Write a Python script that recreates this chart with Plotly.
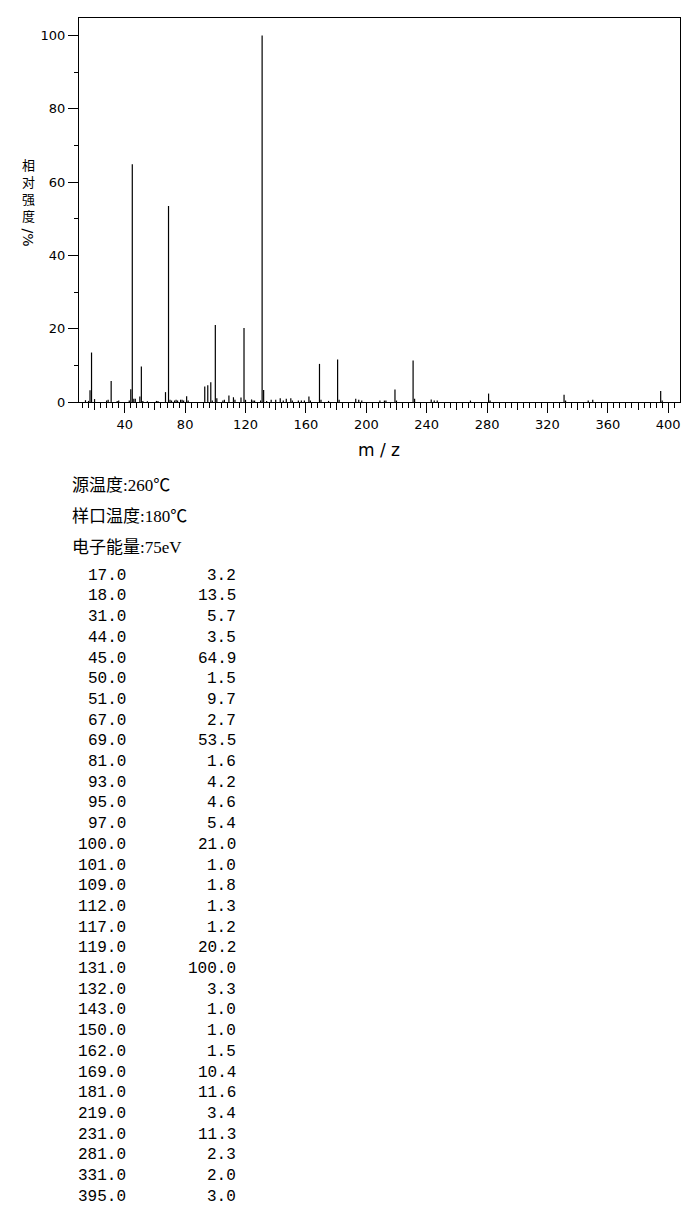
import plotly.graph_objects as go

# %% data: peaks listed in the table
table_mz = [17, 18, 31, 44, 45, 50, 51, 67, 69, 81, 93, 95, 97, 100, 101, 109, 112,
            117, 119, 131, 132, 143, 150, 162, 169, 181, 219, 231, 281, 331, 395]
table_int = [3.2, 13.5, 5.7, 3.5, 64.9, 1.5, 9.7, 2.7, 53.5, 1.6, 4.2, 4.6, 5.4, 21.0,
             1.0, 1.8, 1.3, 1.2, 20.2, 100.0, 3.3, 1.0, 1.0, 1.5, 10.4, 11.6, 3.4,
             11.3, 2.3, 2.0, 3.0]

# small peaks (< 1 %) read off the spectrum, not in the table
minor_mz = [14, 16, 20, 28, 29, 35, 36, 43, 46, 47, 52, 55, 61, 62, 70, 71, 73, 74, 75,
            77, 78, 79, 82, 98, 105, 106, 113, 120, 124, 125, 126, 130, 134, 137, 140,
            145, 147, 151, 155, 157, 159, 163, 170, 175, 182, 193, 195, 197, 209, 212,
            213, 220, 232, 243, 245, 247, 269, 282, 332, 347, 350, 396]
minor_int = [0.5, 0.3, 0.8, 0.4, 0.6, 0.3, 0.4, 0.4, 0.9, 0.9, 0.3, 0.2, 0.3, 0.3, 0.6,
             0.4, 0.4, 0.6, 0.4, 0.6, 0.6, 0.4, 0.4, 0.4, 0.4, 0.6, 0.6, 0.6, 0.7, 0.4,
             0.4, 0.4, 0.3, 0.6, 0.6, 0.4, 0.9, 0.4, 0.4, 0.4, 0.4, 0.4, 0.6, 0.3, 0.6,
             0.9, 0.6, 0.4, 0.4, 0.4, 0.4, 0.4, 0.9, 0.7, 0.4, 0.4, 0.4, 0.4, 0.4, 0.4,
             0.6, 0.4]

header_lines = ["源温度:260℃", "样口温度:180℃", "电子能量:75eV"]
y_title_chars = ["相", "对", "强", "度"]

# %% stick spectrum
all_mz = table_mz + minor_mz
all_int = table_int + minor_int
xs, ys = [], []
for m, v in zip(all_mz, all_int):
    xs += [m, m, None]
    ys += [0, v, None]

fig = go.Figure()
fig.add_trace(go.Scatter(x=xs, y=ys, mode="lines", line=dict(color="black", width=1.2),
                         hoverinfo="skip", showlegend=False))
# dummy trace on the second x axis so the 20-step ticks show
fig.add_trace(go.Scatter(x=[100], y=[0], xaxis="x2", mode="markers",
                         marker=dict(opacity=0), showlegend=False, hoverinfo="skip"))

# page body has an 8px margin, so the figure is drawn 8px in from the corner
OFF = 8
W, H = 694 - OFF, 1208 - OFF
L, R, T, B = 79.3 - OFF, 680.0 - OFF, 18.3 - OFF, 402.3 - OFF
x_range = [9.7, 407.8]

fig.update_layout(
    width=W, height=H,
    margin=dict(l=L, r=W - R, t=T, b=H - B, pad=0),
    plot_bgcolor="white", paper_bgcolor="white",
    font=dict(family="DejaVu Sans", size=13, color="black"),
    xaxis=dict(range=x_range, showgrid=False, zeroline=False, showline=True,
               linecolor="black", linewidth=1, mirror=True,
               ticks="outside", tickmode="linear", tick0=0, dtick=40, ticklen=10,
               tickcolor="black", tickwidth=1,
               minor=dict(ticks="outside", dtick=4, tick0=0, ticklen=5,
                          tickcolor="black", tickwidth=1, showgrid=False),
               tickfont=dict(size=13)),
    xaxis2=dict(range=x_range, overlaying="x", side="bottom", showgrid=False,
                zeroline=False, showline=False, showticklabels=False,
                ticks="outside", tickmode="linear", tick0=0, dtick=20, ticklen=7,
                tickcolor="black", tickwidth=1),
    yaxis=dict(range=[0, 104.8], showgrid=False, zeroline=False, showline=True,
               linecolor="black", linewidth=1, mirror=True,
               ticks="outside", tickmode="linear", tick0=0, dtick=20, ticklen=10,
               tickcolor="black", tickwidth=1,
               minor=dict(ticks="outside", dtick=10, tick0=0, ticklen=4,
                          tickcolor="black", tickwidth=1, showgrid=False),
               tickfont=dict(size=13)),
)


# positions below are measured in page pixels
def px_x(x):
    return (x - OFF - L) / (R - L)


def px_y(y):
    return (B - (y - OFF)) / (B - T)


ann = []
# x title
ann.append(dict(text="m / z", x=px_x(379), y=px_y(450), xref="paper", yref="paper",
                showarrow=False, font=dict(family="DejaVu Sans", size=17),
                xanchor="center", yanchor="middle"))
# y title, stacked characters then a sideways "/%"
ann.append(dict(text="<br>".join(y_title_chars), x=px_x(28.5), y=px_y(190),
                xref="paper", yref="paper", showarrow=False, borderpad=0,
                font=dict(family="Noto Sans CJK SC", size=13),
                xanchor="center", yanchor="middle"))
ann.append(dict(text="/%", x=px_x(28.5), y=px_y(238), xref="paper", yref="paper",
                showarrow=False, textangle=90, borderpad=0,
                font=dict(family="DejaVu Sans", size=14),
                xanchor="center", yanchor="middle"))

# instrument settings
for i, line in enumerate(header_lines):
    ann.append(dict(text=line, x=px_x(70), y=px_y(486 + i * 31), xref="paper",
                    yref="paper", showarrow=False,
                    font=dict(family="Liberation Serif, Noto Sans CJK SC", size=17),
                    xanchor="left", yanchor="middle"))

# peak table
for i, (m, v) in enumerate(zip(table_mz, table_int)):
    yy = px_y(576 + i * 20.7)
    ann.append(dict(text=f"{m:.1f}", x=px_x(127), y=yy, xref="paper", yref="paper",
                    showarrow=False, borderpad=0,
                    font=dict(family="Liberation Mono", size=16),
                    xanchor="right", yanchor="middle"))
    ann.append(dict(text=f"{v:.1f}", x=px_x(237), y=yy, xref="paper", yref="paper",
                    showarrow=False, borderpad=0,
                    font=dict(family="Liberation Mono", size=16),
                    xanchor="right", yanchor="middle"))

fig.update_layout(annotations=ann)

fig.write_html("out.html")
